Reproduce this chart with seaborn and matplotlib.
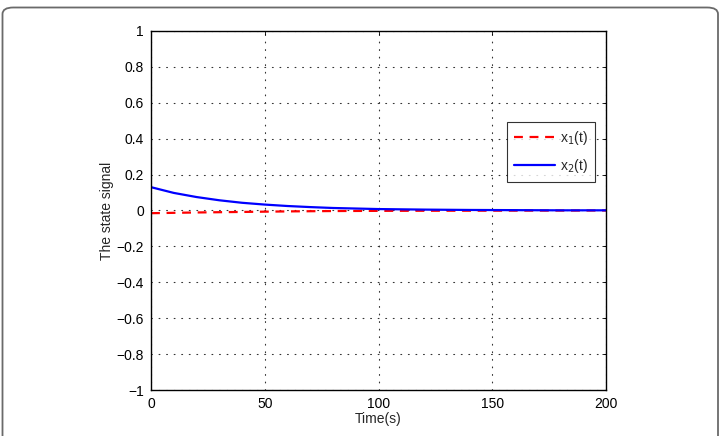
import numpy as np
import pandas as pd
import matplotlib
matplotlib.use("Agg")
import matplotlib.pyplot as plt
import seaborn as sns
from matplotlib.patches import FancyBboxPatch

# values
time_x1 = [0, 20, 40, 60, 80, 100, 120, 150, 200]
x1_vals = [-0.015, -0.011, -0.008, -0.005, -0.003, -0.002, -0.0015, -0.001, 0.0]

time_x2 = [0, 10, 20, 30, 40, 50, 60, 70, 80, 90, 100, 120, 140, 160, 180, 200]
x2_vals = [0.13, 0.098, 0.075, 0.057, 0.043, 0.033, 0.025, 0.019, 0.014,
           0.011, 0.008, 0.005, 0.003, 0.002, 0.001, 0.001]

x_ticks = [0, 50, 100, 150, 200]
y_ticks = [-1, -0.8, -0.6, -0.4, -0.2, 0, 0.2, 0.4, 0.6, 0.8, 1]
y_labels = ["\u22121", "\u22120.8", "\u22120.6", "\u22120.4", "\u22120.2", "0",
            "0.2", "0.4", "0.6", "0.8", "1"]

sns.set_style("white")
plt.rcParams["font.family"] = ["Liberation Sans", "DejaVu Sans"]
plt.rcParams["xtick.direction"] = "in"
plt.rcParams["ytick.direction"] = "in"

df1 = pd.DataFrame({"Time": time_x1, "value": x1_vals})
df2 = pd.DataFrame({"Time": time_x2, "value": x2_vals})

fig = plt.figure(figsize=(7.21, 4.36), dpi=100)
ax = fig.add_axes([151 / 721, 1 - 390 / 436, (606 - 151) / 721, (390 - 31) / 436])

sns.lineplot(data=df1, x="Time", y="value", ax=ax, color="#ff0000",
             linestyle=(0, (4, 3)), linewidth=1.6, label="x$_1$(t)")
sns.lineplot(data=df2, x="Time", y="value", ax=ax, color="#0000ff",
             linewidth=1.6, label="x$_2$(t)")

ax.set_xlim(0, 200)
ax.set_ylim(-1, 1)
ax.set_xticks(x_ticks)
ax.set_yticks(y_ticks)
ax.set_yticklabels(y_labels)
ax.tick_params(labelsize=10, length=3, width=0.6, top=True, right=True, colors="black")
ax.tick_params(axis="x", pad=5)
ax.tick_params(axis="y", pad=5)
ax.grid(True, linestyle=(0, (0.8, 6)), color="#333333", linewidth=0.8,
        dash_capstyle="round")
for s in ax.spines.values():
    s.set_color("black")
    s.set_linewidth(1.0)

ax.set_xlabel("Time(s)", fontsize=10, labelpad=1)
ax.set_ylabel("The state signal", fontsize=10, labelpad=2)

leg = ax.legend(loc="upper right", bbox_to_anchor=(0.99, 0.765), fontsize=10,
                frameon=True, fancybox=False, handlelength=3.0, borderpad=0.5,
                labelspacing=0.7, handletextpad=0.3)
leg.get_frame().set_edgecolor("black")
leg.get_frame().set_linewidth(0.8)

border = FancyBboxPatch((2.5 / 721, -0.05), (718 - 2.5) / 721, (436 - 7.5) / 436 + 0.05,
                        boxstyle="round,pad=0,rounding_size=0.015",
                        transform=fig.transFigure, facecolor="none",
                        edgecolor="#6a6a6a", linewidth=1.3, clip_on=False)
fig.patches.append(border)

fig.savefig("out.png", dpi=100)
